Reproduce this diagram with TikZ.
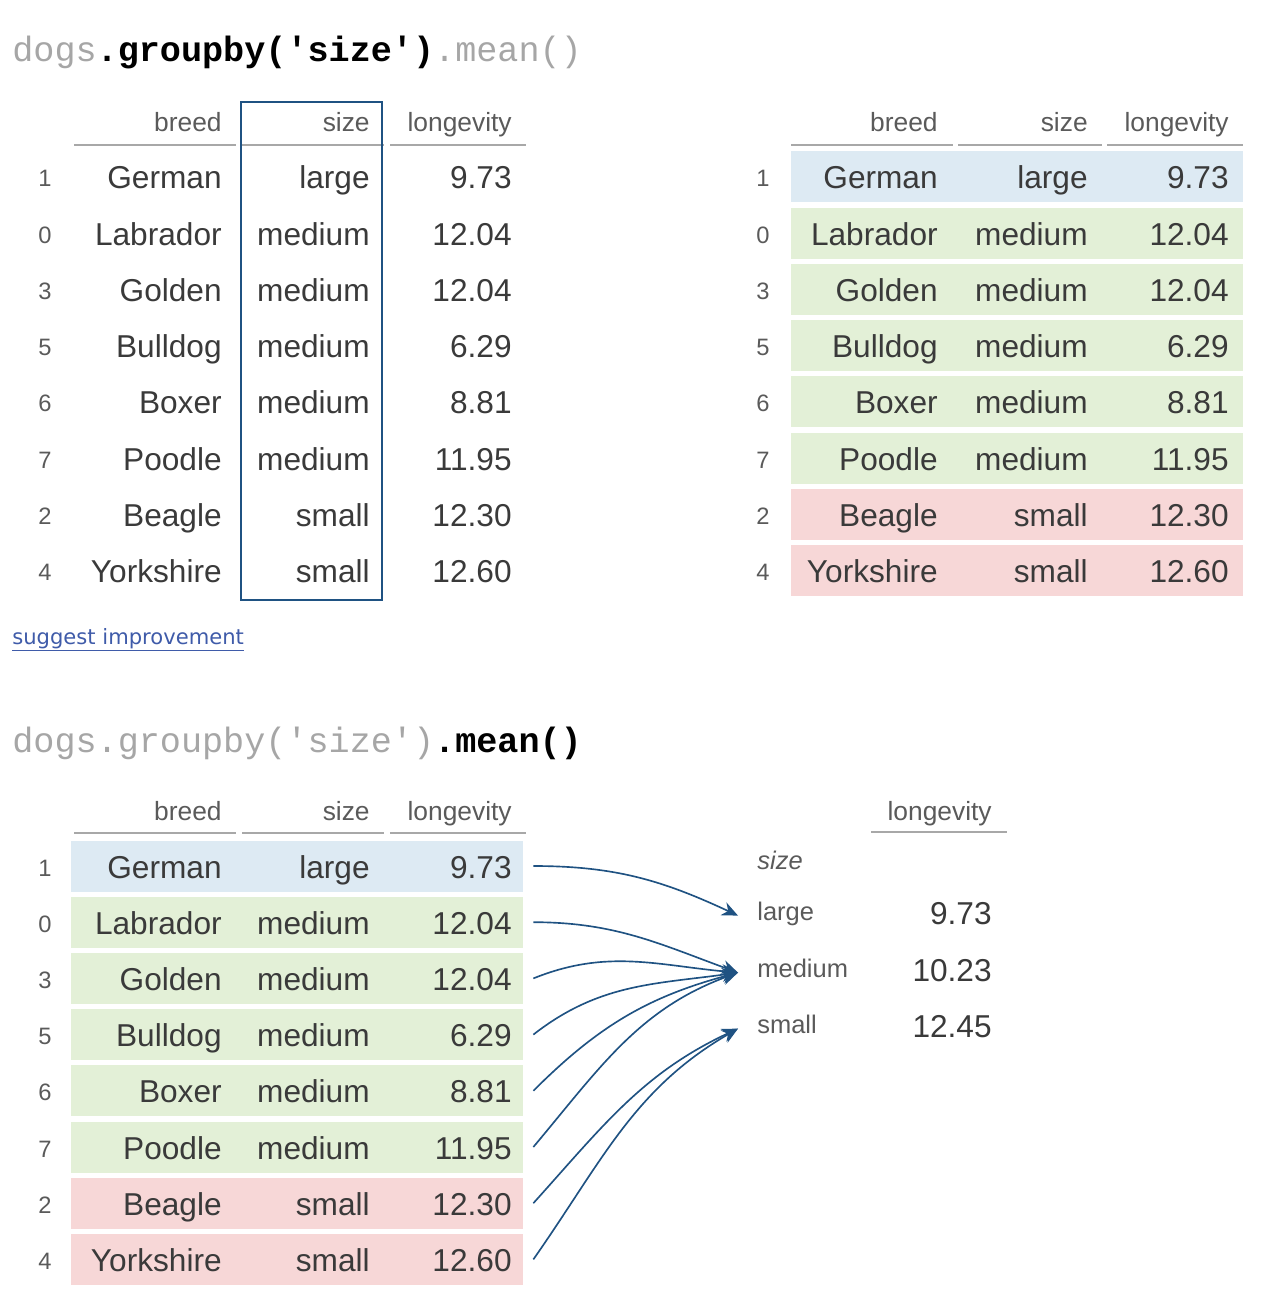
\documentclass[tikz,border=0pt]{standalone}
\usepackage{fontspec}
\setmainfont{Liberation Sans}
\setmonofont{Liberation Mono}
\newfontfamily\dglinkfont{DejaVu Sans}
\usetikzlibrary{positioning,arrows.meta}
\definecolor{dgtexto}{HTML}{3A3A3A}
\definecolor{dgcabec}{HTML}{5A5A5A}
\definecolor{dgcinza}{HTML}{A8A8A8}
\definecolor{dgcodcinza}{HTML}{A6A6A6}
\definecolor{dgazul}{HTML}{1F5282}
\definecolor{dglink}{HTML}{3F5BA9}
\definecolor{dgfaixaL}{HTML}{DDEAF3}
\definecolor{dgfaixaM}{HTML}{E3F0D7}
\definecolor{dgfaixaS}{HTML}{F7D7D7}
\tikzset{
  dgcel/.style={anchor=base east, inner sep=0pt, text=dgtexto, font=\fontsize{18}{20}\selectfont},
  dgcab/.style={anchor=base east, inner sep=0pt, text=dgcabec, font=\fontsize{15}{17}\selectfont},
  dgidx/.style={anchor=base, inner sep=0pt, text=dgcabec, font=\fontsize{13.5}{15}\selectfont},
  dgrot/.style={anchor=base west, inner sep=0pt, text=dgcabec, text height=0.75em, text depth=0.25em,
                font=\fontsize{14.5}{16}\selectfont},
  dglinha/.style={draw=dgcinza, line width=0.4mm},
  dgfaixa/.style={inner sep=0pt, minimum width=90.4mm, minimum height=10.2mm},
  dgcodigo/.style={anchor=base west, inner sep=0pt, font=\ttfamily\fontsize{20}{22}\selectfont},
  dgseta/.style={-{Stealth[length=3.2mm, width=2.8mm]}, line width=0.33mm, draw=dgazul},
}
\begin{document}
\begin{tikzpicture}[x=0.2mm, y=-0.2mm]
  \path[use as bounding box] (0,0) rectangle (1276,1304);
  % linha de codigo de cima
  \node[dgcodigo] (cod1) at (12,62) {{\color{dgcodcinza}dogs}\textbf{.groupby('size')}{\color{dgcodcinza}.mean()}};
  % cabecalhos das duas tabelas de cima
  \node[dgcab] (a-cab-raca) at (222,132) {breed};
  \node[dgcab] (a-cab-porte) at (370,132) {size};
  \node[dgcab] (a-cab-vida) at (512,132) {longevity};
  \draw[dglinha] (74,145) -- (236,145);
  \draw[dglinha] (242,145) -- (384,145);
  \draw[dglinha] (390,145) -- (526,145);
  \node[dgcab] (b-cab-raca) at (938,132) {breed};
  \node[dgcab] (b-cab-porte) at (1088,132) {size};
  \node[dgcab] (b-cab-vida) at (1229,132) {longevity};
  \draw[dglinha] (791,145) -- (953,145);
  \draw[dglinha] (958,145) -- (1102,145);
  \draw[dglinha] (1107,145) -- (1243,145);
  % linha de codigo de baixo
  \node[dgcodigo] (cod2) at (12,752) {{\color{dgcodcinza}dogs.groupby('size')}\textbf{.mean()}};
  \node[dgcab] (c-cab-raca) at (222,820) {breed};
  \node[dgcab] (c-cab-porte) at (370,820) {size};
  \node[dgcab] (c-cab-vida) at (512,820) {longevity};
  \draw[dglinha] (74,833) -- (236,833);
  \draw[dglinha] (242,833) -- (384,833);
  \draw[dglinha] (390,833) -- (526,833);
  % tabela do resultado
  \node[dgcab] (r-cab-vida) at (992,820) {longevity};
  \draw[dglinha] (871,832) -- (1007,832);
  \node[dgrot, font=\itshape\fontsize{14.5}{16}\selectfont] (r-porte) at (757,869) {size};
  \node[dgrot] (res-large) at (757,920) {large};
  \node[dgrot] (res-medium) at (757,977) {medium};
  \node[dgrot] (res-small) at (757,1033) {small};
  \node[dgcel] (rv-large) at (992,924) {9.73};
  \node[dgcel] (rv-medium) at (992,981) {10.23};
  \node[dgcel] (rv-small) at (992,1037) {12.45};
  % linhas das tabelas
  \foreach \ix/\raca/\porte/\vida/\cor/\saida/\chegada [count=\r from 0] in {
      1/German/large/9.73/L/0/155, 0/Labrador/medium/12.04/M/0/160,
      3/Golden/medium/12.04/M/22/175, 5/Bulldog/medium/6.29/M/38/188,
      6/Boxer/medium/8.81/M/45/195, 7/Poodle/medium/11.95/M/50/200,
      2/Beagle/small/12.30/S/48/205, 4/Yorkshire/small/12.60/S/55/210} {
    \pgfmathsetmacro\ya{177+56.2*\r}
    \pgfmathsetmacro\yc{866+56.2*\r}
    % tabela A
    \node[dgidx] (a-idx-\r) at (45,\ya+10) {\ix};
    \node[dgcel] (a-raca-\r) at (222,\ya+12) {\raca};
    \node[dgcel] (a-porte-\r) at (370,\ya+12) {\porte};
    \node[dgcel] (a-vida-\r) at (512,\ya+12) {\vida};
    % tabela B
    \node[dgfaixa, fill=dgfaixa\cor] (b-faixa-\r) at (1017,\ya) {};
    \node[dgidx] (b-idx-\r) at (763,\ya+10) {\ix};
    \node[dgcel] (b-raca-\r) at (938,\ya+12) {\raca};
    \node[dgcel] (b-porte-\r) at (1088,\ya+12) {\porte};
    \node[dgcel] (b-vida-\r) at (1229,\ya+12) {\vida};
    % tabela C
    \node[dgfaixa, fill=dgfaixa\cor] (c-faixa-\r) at (297,\yc) {};
    \node[dgidx] (c-idx-\r) at (45,\yc+10) {\ix};
    \node[dgcel] (c-raca-\r) at (222,\yc+12) {\raca};
    \node[dgcel] (c-porte-\r) at (370,\yc+12) {\porte};
    \node[dgcel] (c-vida-\r) at (512,\yc+12) {\vida};
    \draw[dgseta] ([xshift=2mm]c-faixa-\r.east) to[out=\saida, in=\chegada] ([xshift=-3.8mm]res-\porte.west);
  }
  % caixa da coluna size
  \draw[dgazul, line width=0.4mm] (241,102) rectangle (382,600);
  \node[anchor=base west, inner sep=0pt, text=dglink, font=\dglinkfont\fontsize{12}{14}\selectfont]
    (sugestao) at (12,644) {\underline{suggest improvement}};
\end{tikzpicture}
\end{document}
